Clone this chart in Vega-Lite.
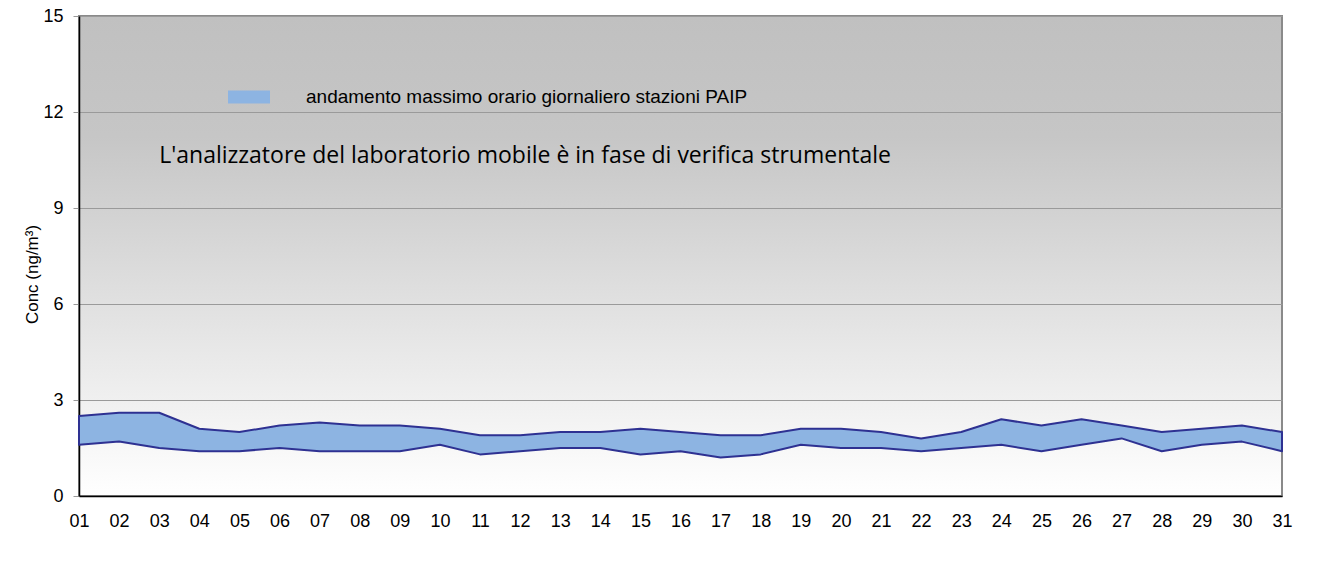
{
  "$schema": "https://vega.github.io/schema/vega-lite/v6.json",
  "width": 1203,
  "height": 480,
  "autosize": {"type": "none"},
  "padding": {"left": 79, "top": 16, "right": 40, "bottom": 72},
  "background": "#FFFFFF",
  "config": {
    "font": "Liberation Sans",
    "view": {
      "stroke": "#8A8A8A",
      "strokeWidth": 2,
      "fill": {
        "gradient": "linear",
        "x1": 0, "y1": 0, "x2": 0, "y2": 1,
        "stops": [
          {"offset": 0, "color": "#C0C0C0"},
          {"offset": 0.25, "color": "#C6C6C6"},
          {"offset": 1, "color": "#FFFFFF"}
        ]
      }
    }
  },
  "layer": [
    {
      "data": {
        "values": [
          {"giorno": "01", "min": 1.6, "max": 2.5, "serie": "andamento massimo orario giornaliero stazioni PAIP"},
          {"giorno": "02", "min": 1.7, "max": 2.6, "serie": "andamento massimo orario giornaliero stazioni PAIP"},
          {"giorno": "03", "min": 1.5, "max": 2.6, "serie": "andamento massimo orario giornaliero stazioni PAIP"},
          {"giorno": "04", "min": 1.4, "max": 2.1, "serie": "andamento massimo orario giornaliero stazioni PAIP"},
          {"giorno": "05", "min": 1.4, "max": 2.0, "serie": "andamento massimo orario giornaliero stazioni PAIP"},
          {"giorno": "06", "min": 1.5, "max": 2.2, "serie": "andamento massimo orario giornaliero stazioni PAIP"},
          {"giorno": "07", "min": 1.4, "max": 2.3, "serie": "andamento massimo orario giornaliero stazioni PAIP"},
          {"giorno": "08", "min": 1.4, "max": 2.2, "serie": "andamento massimo orario giornaliero stazioni PAIP"},
          {"giorno": "09", "min": 1.4, "max": 2.2, "serie": "andamento massimo orario giornaliero stazioni PAIP"},
          {"giorno": "10", "min": 1.6, "max": 2.1, "serie": "andamento massimo orario giornaliero stazioni PAIP"},
          {"giorno": "11", "min": 1.3, "max": 1.9, "serie": "andamento massimo orario giornaliero stazioni PAIP"},
          {"giorno": "12", "min": 1.4, "max": 1.9, "serie": "andamento massimo orario giornaliero stazioni PAIP"},
          {"giorno": "13", "min": 1.5, "max": 2.0, "serie": "andamento massimo orario giornaliero stazioni PAIP"},
          {"giorno": "14", "min": 1.5, "max": 2.0, "serie": "andamento massimo orario giornaliero stazioni PAIP"},
          {"giorno": "15", "min": 1.3, "max": 2.1, "serie": "andamento massimo orario giornaliero stazioni PAIP"},
          {"giorno": "16", "min": 1.4, "max": 2.0, "serie": "andamento massimo orario giornaliero stazioni PAIP"},
          {"giorno": "17", "min": 1.2, "max": 1.9, "serie": "andamento massimo orario giornaliero stazioni PAIP"},
          {"giorno": "18", "min": 1.3, "max": 1.9, "serie": "andamento massimo orario giornaliero stazioni PAIP"},
          {"giorno": "19", "min": 1.6, "max": 2.1, "serie": "andamento massimo orario giornaliero stazioni PAIP"},
          {"giorno": "20", "min": 1.5, "max": 2.1, "serie": "andamento massimo orario giornaliero stazioni PAIP"},
          {"giorno": "21", "min": 1.5, "max": 2.0, "serie": "andamento massimo orario giornaliero stazioni PAIP"},
          {"giorno": "22", "min": 1.4, "max": 1.8, "serie": "andamento massimo orario giornaliero stazioni PAIP"},
          {"giorno": "23", "min": 1.5, "max": 2.0, "serie": "andamento massimo orario giornaliero stazioni PAIP"},
          {"giorno": "24", "min": 1.6, "max": 2.4, "serie": "andamento massimo orario giornaliero stazioni PAIP"},
          {"giorno": "25", "min": 1.4, "max": 2.2, "serie": "andamento massimo orario giornaliero stazioni PAIP"},
          {"giorno": "26", "min": 1.6, "max": 2.4, "serie": "andamento massimo orario giornaliero stazioni PAIP"},
          {"giorno": "27", "min": 1.8, "max": 2.2, "serie": "andamento massimo orario giornaliero stazioni PAIP"},
          {"giorno": "28", "min": 1.4, "max": 2.0, "serie": "andamento massimo orario giornaliero stazioni PAIP"},
          {"giorno": "29", "min": 1.6, "max": 2.1, "serie": "andamento massimo orario giornaliero stazioni PAIP"},
          {"giorno": "30", "min": 1.7, "max": 2.2, "serie": "andamento massimo orario giornaliero stazioni PAIP"},
          {"giorno": "31", "min": 1.4, "max": 2.0, "serie": "andamento massimo orario giornaliero stazioni PAIP"}
        ]
      },
      "mark": {"type": "area", "stroke": "#2E3192", "strokeWidth": 2, "opacity": 1, "fillOpacity": 1, "strokeJoin": "round"},
      "encoding": {
        "x": {
          "field": "giorno", "type": "ordinal",
          "scale": {"type": "point", "padding": 0},
          "axis": {
            "title": null, "labelAngle": 0, "labelFontSize": 18, "labelColor": "#000000",
            "ticks": false, "labelPadding": 16, "domainColor": "#000000", "domainWidth": 1.5,
            "grid": false
          }
        },
        "y": {
          "field": "max", "type": "quantitative",
          "scale": {"domain": [0, 15], "nice": false, "zero": true},
          "axis": {
            "title": "Conc (ng/m³)", "titleFontSize": 17, "titleFontWeight": "normal", "titleColor": "#000000",
            "titleX": -47, "titleY": 258, "titleBaseline": "middle", "titleAngle": 270,
            "values": [0, 3, 6, 9, 12, 15], "labelFontSize": 18, "labelColor": "#000000",
            "tickSize": 6, "tickColor": "#999999", "labelPadding": 10,
            "domainColor": "#000000", "domainWidth": 1.5,
            "grid": true, "gridColor": "#9A9A9A", "gridWidth": 1.2
          }
        },
        "y2": {"field": "min"},
        "fill": {
          "field": "serie", "type": "nominal",
          "scale": {"range": ["#8DB4E2"]},
          "legend": {
            "title": null, "orient": "none", "legendX": 149, "legendY": 60,
            "symbolType": "M-1,-0.31H1V0.31H-1Z", "symbolSize": 1764,
            "symbolStrokeWidth": 0, "symbolFillColor": "#8DB4E2",
            "labelFontSize": 19, "labelColor": "#000000", "labelOffset": 36,
            "labelLimit": 700, "padding": 0
          }
        }
      }
    },
    {
      "data": {"values": [{"nota": "L'analizzatore del laboratorio mobile è in fase di verifica strumentale", "giorno": "03", "livello": 10.4}]},
      "mark": {"type": "text", "align": "left", "baseline": "alphabetic", "font": "Open Sans", "fontSize": 23, "fontWeight": "normal", "color": "#000000"},
      "encoding": {
        "x": {"field": "giorno", "type": "ordinal"},
        "y": {"field": "livello", "type": "quantitative"},
        "text": {"field": "nota"}
      }
    }
  ]
}
